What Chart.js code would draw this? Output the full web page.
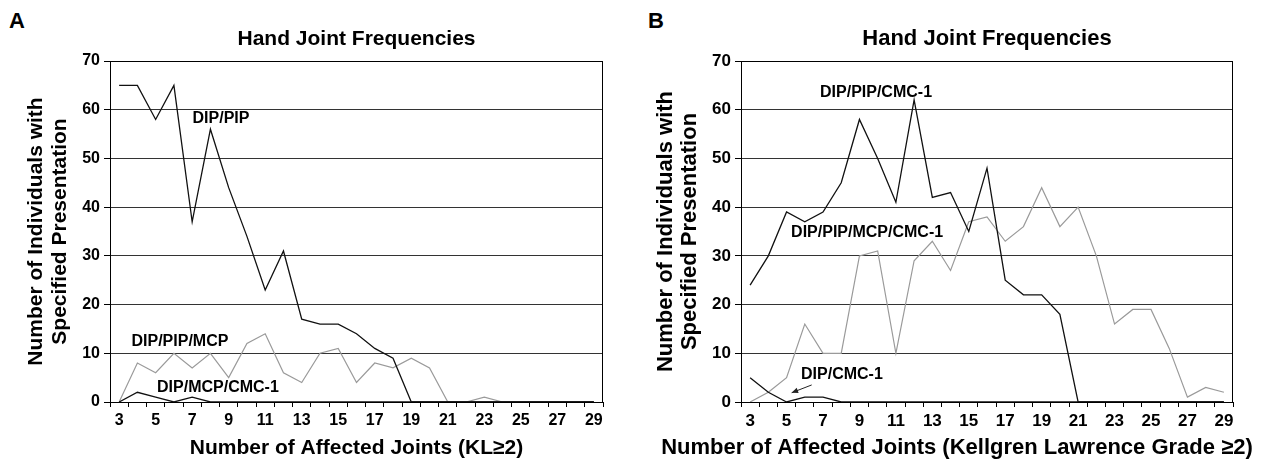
<!DOCTYPE html>
<html>
<head>
<meta charset="utf-8">
<script src="https://cdn.jsdelivr.net/npm/chart.js@4.4.0/dist/chart.umd.min.js"></script>
<style>
  html, body { margin: 0; padding: 0; background: #fff; }
  #wrap { position: relative; width: 1272px; height: 460px; overflow: hidden; }
  canvas { position: absolute; top: 0; }
  .panel { position: absolute; top: 8px; font: bold 22px "Liberation Sans", Arial, sans-serif; color: #000; }
</style>
</head>
<body>
<div id="wrap">
  <div class="panel" style="left:9px">A</div>
  <div class="panel" style="left:648px">B</div>
  <canvas id="chartA" width="636" height="460" style="left:0"></canvas>
  <canvas id="chartB" width="636" height="460" style="left:636px"></canvas>
</div>
<script>
// Number of affected joints, 3..29
const joints = ["3", "4", "5", "6", "7", "8", "9", "10", "11", "12", "13", "14", "15", "16",
  "17", "18", "19", "20", "21", "22", "23", "24", "25", "26", "27", "28", "29"];
const yTicks = [0, 10, 20, 30, 40, 50, 60, 70];

// Panel A (KL >= 2)
const dipPip = [65, 65, 58, 65, 37, 56, 44, 34, 23, 31, 17, 16, 16, 14, 11, 9, 0,
  0, 0, 0, 0, 0, 0, 0, 0, 0, 0];
const dipPipMcp = [0, 8, 6, 10, 7, 10, 5, 12, 14, 6, 4, 10, 11, 4, 8, 7, 9,
  7, 0, 0, 1, 0, 0, 0, 0, 0, 0];
const dipMcpCmc1 = [0, 2, 1, 0, 1, 0, 0, 0, 0, 0, 0, 0, 0, 0, 0, 0, 0,
  0, 0, 0, 0, 0, 0, 0, 0, 0, 0];

// Panel B (Kellgren Lawrence grade >= 2)
const dipPipCmc1 = [24, 30, 39, 37, 39, 45, 58, 50, 41, 62, 42, 43, 35, 48, 25, 22, 22,
  18, 0, 0, 0, 0, 0, 0, 0, 0, 0];
const dipPipMcpCmc1 = [0, 2, 5, 16, 10, 10, 30, 31, 10, 29, 33, 27, 37, 38, 33, 36, 44,
  36, 40, 30, 16, 19, 19, 11, 1, 3, 2];
const dipCmc1 = [5, 2, 0, 1, 1, 0, 0, 0, 0, 0, 0, 0, 0, 0, 0, 0, 0,
  0, 0, 0, 0, 0, 0, 0, 0, 0, 0];

const FONT = '"Liberation Sans", Arial, sans-serif';
const DARK = "#111";
const GREY = "#9a9a9a";

// frame, chart title, x title and in-plot labels
const decorations = {
  id: "decorations",
  beforeDatasetsDraw(chart) {
    const { ctx, chartArea: a } = chart;
    ctx.save();
    ctx.strokeStyle = "#000";
    ctx.lineWidth = 1;
    ctx.strokeRect(a.left + 0.5, a.top + 0.5, a.right - a.left - 1, a.bottom - a.top);
    ctx.restore();
  },
  afterDatasetsDraw(chart, args, opts) {
    const { ctx, chartArea: a, scales } = chart;
    const cx = (a.left + a.right) / 2;
    ctx.save();
    ctx.fillStyle = "#000";
    ctx.textAlign = "center";
    ctx.textBaseline = "middle";
    ctx.font = "bold " + opts.titleSize + "px " + FONT;
    ctx.fillText(opts.title, cx, 39);
    ctx.fillText(opts.xTitle, cx + opts.xTitleShift, 448);
    ctx.font = "bold 16px " + FONT;
    opts.notes.forEach((n) => {
      ctx.fillText(n.text, scales.x.getPixelForValue(n.x), scales.y.getPixelForValue(n.y));
    });
    (opts.arrows || []).forEach((ar) => {
      const x1 = scales.x.getPixelForValue(ar.from[0]);
      const y1 = scales.y.getPixelForValue(ar.from[1]);
      const x2 = scales.x.getPixelForValue(ar.to[0]);
      const y2 = scales.y.getPixelForValue(ar.to[1]);
      const ang = Math.atan2(y2 - y1, x2 - x1);
      ctx.strokeStyle = "#222";
      ctx.lineWidth = 1;
      ctx.beginPath();
      ctx.moveTo(x1, y1);
      ctx.lineTo(x2, y2);
      ctx.stroke();
      ctx.beginPath();
      ctx.moveTo(x2, y2);
      ctx.lineTo(x2 - 7 * Math.cos(ang - 0.4), y2 - 7 * Math.sin(ang - 0.4));
      ctx.lineTo(x2 - 7 * Math.cos(ang + 0.4), y2 - 7 * Math.sin(ang + 0.4));
      ctx.closePath();
      ctx.fillStyle = "#222";
      ctx.fill();
    });
    ctx.restore();
  }
};

function series(label, data, color, width) {
  return {
    label,
    data,
    borderColor: color,
    backgroundColor: color,
    borderWidth: width,
    pointRadius: 0,
    tension: 0,
    fill: false
  };
}

function makeChart(id, datasets, cfg) {
  const tickFont = { family: FONT, size: cfg.tickSize, weight: "bold" };
  return new Chart(document.getElementById(id), {
    type: "line",
    data: { labels: joints, datasets },
    options: {
      responsive: false,
      animation: false,
      events: [],
      layout: { padding: { left: 0, top: 61, right: cfg.padRight, bottom: 0 } },
      plugins: {
        legend: { display: false },
        tooltip: { enabled: false },
        decorations: cfg.deco
      },
      scales: {
        x: {
          type: "category",
          offset: true,
          grid: { offset: true, drawOnChartArea: false, tickLength: 5, color: "#000" },
          border: { color: "#000", width: 1 },
          ticks: {
            autoSkip: false,
            maxRotation: 0,
            color: "#000",
            padding: 4,
            font: tickFont,
            callback: function (v, i) { return i % 2 === 0 ? this.getLabelForValue(v) : ""; }
          },
          afterFit: (s) => { s.height = 58; }
        },
        y: {
          min: 0,
          max: 70,
          afterBuildTicks: (s) => { s.ticks = yTicks.map((v) => ({ value: v })); },
          grid: { color: "#333", tickColor: "#000", tickLength: 6, lineWidth: 1 },
          border: { color: "#000", width: 1 },
          ticks: { color: "#000", padding: 4, font: tickFont },
          title: {
            display: true,
            text: ["Number of Individuals with", "Specified Presentation"],
            color: "#000",
            font: { family: FONT, size: cfg.yTitleSize, weight: "bold", lineHeight: 24 / cfg.yTitleSize },
            padding: { top: cfg.yTitlePad, bottom: 0 }
          },
          afterFit: (s) => { s.width = cfg.yWidth; }
        }
      }
    },
    plugins: [decorations]
  });
}

makeChart("chartA", [
  series("DIP/PIP", dipPip, DARK, 1.3),
  series("DIP/MCP/CMC-1", dipMcpCmc1, DARK, 1.3),
  series("DIP/PIP/MCP", dipPipMcp, GREY, 1.2)
], {
  padRight: 33,
  yWidth: 110,
  yTitlePad: 24,
  yTitleSize: 21,
  tickSize: 16,
  deco: {
    title: "Hand Joint Frequencies",
    titleSize: 21,
    xTitle: "Number of Affected Joints (KL\u22652)",
    xTitleShift: 0,
    notes: [
      { text: "DIP/PIP", x: 5.58, y: 58.1 },
      { text: "DIP/PIP/MCP", x: 3.33, y: 12.5 },
      { text: "DIP/MCP/CMC-1", x: 5.41, y: 2.9 }
    ]
  }
});

makeChart("chartB", [
  series("DIP/PIP/CMC-1", dipPipCmc1, DARK, 1.3),
  series("DIP/CMC-1", dipCmc1, DARK, 1.3),
  series("DIP/PIP/MCP/CMC-1", dipPipMcpCmc1, GREY, 1.2)
], {
  padRight: 39,
  yWidth: 105,
  yTitlePad: 18,
  yTitleSize: 22,
  tickSize: 17,
  deco: {
    title: "Hand Joint Frequencies",
    titleSize: 22,
    xTitle: "Number of Affected Joints (Kellgren Lawrence Grade \u22652)",
    xTitleShift: -30,
    notes: [
      { text: "DIP/PIP/CMC-1", x: 6.91, y: 63.6 },
      { text: "DIP/PIP/MCP/CMC-1", x: 6.42, y: 34.7 },
      { text: "DIP/CMC-1", x: 5.04, y: 5.7 }
    ],
    arrows: [{ from: [3.38, 3.5], to: [2.28, 1.9] }]
  }
});
</script>
</body>
</html>
